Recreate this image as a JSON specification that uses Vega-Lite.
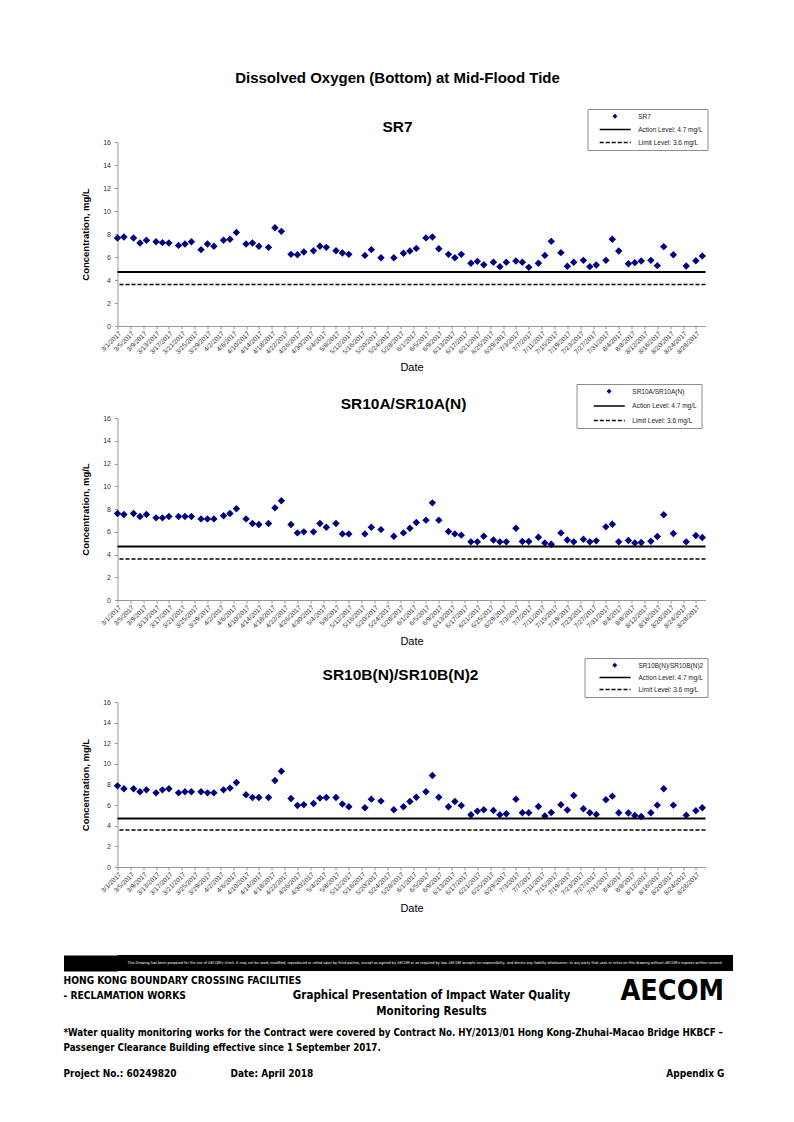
{
  "$schema": "https://vega.github.io/schema/vega-lite/v6.json",
  "background": "white",
  "padding": {"left": 55.5, "top": 70, "right": 5, "bottom": 5},
  "config": {
    "view": {"stroke": null},
    "font": "Liberation Sans",
    "title": {"color": "black"},
    "axis": {"grid": false, "domainColor": "#999999", "tickColor": "#999999", "labelColor": "#333333", "labelFont": "Liberation Sans", "titleFont": "Liberation Sans", "titleColor": "black"}
  },
  "title": {"text": "Dissolved Oxygen (Bottom) at Mid-Flood Tide", "fontSize": 15, "fontWeight": "bold", "font": "Liberation Sans", "anchor": "middle", "offset": 23, "dx": 3},
  "datasets": {
    "sr7": [
      {"date":"2017/03/01","value":7.65},{"date":"2017/03/03","value":7.74},{"date":"2017/03/06","value":7.65},{"date":"2017/03/08","value":7.22},{"date":"2017/03/10","value":7.45},{"date":"2017/03/13","value":7.33},{"date":"2017/03/15","value":7.25},{"date":"2017/03/17","value":7.22},{"date":"2017/03/20","value":7.01},{"date":"2017/03/22","value":7.13},{"date":"2017/03/24","value":7.33},{"date":"2017/03/27","value":6.64},{"date":"2017/03/29","value":7.13},{"date":"2017/03/31","value":6.93},
      {"date":"2017/04/03","value":7.45},{"date":"2017/04/05","value":7.54},{"date":"2017/04/07","value":8.14},{"date":"2017/04/10","value":7.13},{"date":"2017/04/12","value":7.22},{"date":"2017/04/14","value":6.93},{"date":"2017/04/17","value":6.84},{"date":"2017/04/19","value":8.55},{"date":"2017/04/21","value":8.23},{"date":"2017/04/24","value":6.23},{"date":"2017/04/26","value":6.2},{"date":"2017/04/28","value":6.43},
      {"date":"2017/05/01","value":6.55},{"date":"2017/05/03","value":6.93},{"date":"2017/05/05","value":6.84},{"date":"2017/05/08","value":6.55},{"date":"2017/05/10","value":6.35},{"date":"2017/05/12","value":6.23},{"date":"2017/05/17","value":6.14},{"date":"2017/05/19","value":6.64},{"date":"2017/05/22","value":5.94},{"date":"2017/05/26","value":5.94},{"date":"2017/05/29","value":6.33},{"date":"2017/05/31","value":6.52},
      {"date":"2017/06/02","value":6.75},{"date":"2017/06/05","value":7.66},{"date":"2017/06/07","value":7.74},{"date":"2017/06/09","value":6.72},{"date":"2017/06/12","value":6.23},{"date":"2017/06/14","value":5.94},{"date":"2017/06/16","value":6.23},{"date":"2017/06/19","value":5.45},{"date":"2017/06/21","value":5.62},{"date":"2017/06/23","value":5.33},{"date":"2017/06/26","value":5.54},{"date":"2017/06/28","value":5.16},{"date":"2017/06/30","value":5.54},
      {"date":"2017/07/03","value":5.65},{"date":"2017/07/05","value":5.54},{"date":"2017/07/07","value":5.1},{"date":"2017/07/10","value":5.45},{"date":"2017/07/12","value":6.14},{"date":"2017/07/14","value":7.36},{"date":"2017/07/17","value":6.38},{"date":"2017/07/19","value":5.19},{"date":"2017/07/21","value":5.54},{"date":"2017/07/24","value":5.71},{"date":"2017/07/26","value":5.16},{"date":"2017/07/28","value":5.3},{"date":"2017/07/31","value":5.71},
      {"date":"2017/08/02","value":7.54},{"date":"2017/08/04","value":6.52},{"date":"2017/08/07","value":5.42},{"date":"2017/08/09","value":5.51},{"date":"2017/08/11","value":5.65},{"date":"2017/08/14","value":5.71},{"date":"2017/08/16","value":5.25},{"date":"2017/08/18","value":6.9},{"date":"2017/08/21","value":6.2},{"date":"2017/08/25","value":5.22},{"date":"2017/08/28","value":5.68},{"date":"2017/08/30","value":6.09}
    ],
    "sr10a": [
      {"date":"2017/03/01","value":7.6},{"date":"2017/03/03","value":7.52},{"date":"2017/03/06","value":7.6},{"date":"2017/03/08","value":7.34},{"date":"2017/03/10","value":7.52},{"date":"2017/03/13","value":7.22},{"date":"2017/03/15","value":7.22},{"date":"2017/03/17","value":7.34},{"date":"2017/03/20","value":7.34},{"date":"2017/03/22","value":7.34},{"date":"2017/03/24","value":7.34},{"date":"2017/03/27","value":7.13},{"date":"2017/03/29","value":7.13},{"date":"2017/03/31","value":7.13},
      {"date":"2017/04/03","value":7.4},{"date":"2017/04/05","value":7.6},{"date":"2017/04/07","value":8.02},{"date":"2017/04/10","value":7.13},{"date":"2017/04/12","value":6.72},{"date":"2017/04/14","value":6.64},{"date":"2017/04/17","value":6.72},{"date":"2017/04/19","value":8.1},{"date":"2017/04/21","value":8.72},{"date":"2017/04/24","value":6.64},{"date":"2017/04/26","value":5.9},{"date":"2017/04/28","value":5.99},
      {"date":"2017/05/01","value":5.99},{"date":"2017/05/03","value":6.72},{"date":"2017/05/05","value":6.4},{"date":"2017/05/08","value":6.72},{"date":"2017/05/10","value":5.81},{"date":"2017/05/12","value":5.81},{"date":"2017/05/17","value":5.81},{"date":"2017/05/19","value":6.4},{"date":"2017/05/22","value":6.19},{"date":"2017/05/26","value":5.61},{"date":"2017/05/29","value":5.9},{"date":"2017/05/31","value":6.31},
      {"date":"2017/06/02","value":6.82},{"date":"2017/06/05","value":7.02},{"date":"2017/06/07","value":8.54},{"date":"2017/06/09","value":7.02},{"date":"2017/06/12","value":6.02},{"date":"2017/06/14","value":5.81},{"date":"2017/06/16","value":5.7},{"date":"2017/06/19","value":5.11},{"date":"2017/06/21","value":5.11},{"date":"2017/06/23","value":5.61},{"date":"2017/06/26","value":5.28},{"date":"2017/06/28","value":5.11},{"date":"2017/06/30","value":5.11},
      {"date":"2017/07/03","value":6.31},{"date":"2017/07/05","value":5.14},{"date":"2017/07/07","value":5.14},{"date":"2017/07/10","value":5.52},{"date":"2017/07/12","value":5.02},{"date":"2017/07/14","value":4.9},{"date":"2017/07/17","value":5.9},{"date":"2017/07/19","value":5.28},{"date":"2017/07/21","value":5.11},{"date":"2017/07/24","value":5.34},{"date":"2017/07/26","value":5.11},{"date":"2017/07/28","value":5.2},{"date":"2017/07/31","value":6.43},
      {"date":"2017/08/02","value":6.66},{"date":"2017/08/04","value":5.11},{"date":"2017/08/07","value":5.23},{"date":"2017/08/09","value":5.02},{"date":"2017/08/11","value":5.05},{"date":"2017/08/14","value":5.17},{"date":"2017/08/16","value":5.58},{"date":"2017/08/18","value":7.49},{"date":"2017/08/21","value":5.84},{"date":"2017/08/25","value":5.11},{"date":"2017/08/28","value":5.67},{"date":"2017/08/30","value":5.49}
    ],
    "sr10b": [
      {"date":"2017/03/01","value":7.87},{"date":"2017/03/03","value":7.58},{"date":"2017/03/06","value":7.58},{"date":"2017/03/08","value":7.29},{"date":"2017/03/10","value":7.48},{"date":"2017/03/13","value":7.19},{"date":"2017/03/15","value":7.48},{"date":"2017/03/17","value":7.58},{"date":"2017/03/20","value":7.19},{"date":"2017/03/22","value":7.29},{"date":"2017/03/24","value":7.29},{"date":"2017/03/27","value":7.29},{"date":"2017/03/29","value":7.19},{"date":"2017/03/31","value":7.19},
      {"date":"2017/04/03","value":7.48},{"date":"2017/04/05","value":7.65},{"date":"2017/04/07","value":8.19},{"date":"2017/04/10","value":7.0},{"date":"2017/04/12","value":6.74},{"date":"2017/04/14","value":6.74},{"date":"2017/04/17","value":6.74},{"date":"2017/04/19","value":8.39},{"date":"2017/04/21","value":9.29},{"date":"2017/04/24","value":6.65},{"date":"2017/04/26","value":5.97},{"date":"2017/04/28","value":6.03},
      {"date":"2017/05/01","value":6.16},{"date":"2017/05/03","value":6.68},{"date":"2017/05/05","value":6.74},{"date":"2017/05/08","value":6.74},{"date":"2017/05/10","value":6.1},{"date":"2017/05/12","value":5.84},{"date":"2017/05/17","value":5.74},{"date":"2017/05/19","value":6.58},{"date":"2017/05/22","value":6.39},{"date":"2017/05/26","value":5.55},{"date":"2017/05/29","value":5.84},{"date":"2017/05/31","value":6.35},
      {"date":"2017/06/02","value":6.77},{"date":"2017/06/05","value":7.29},{"date":"2017/06/07","value":8.87},{"date":"2017/06/09","value":6.77},{"date":"2017/06/12","value":5.84},{"date":"2017/06/14","value":6.35},{"date":"2017/06/16","value":5.97},{"date":"2017/06/19","value":5.06},{"date":"2017/06/21","value":5.42},{"date":"2017/06/23","value":5.55},{"date":"2017/06/26","value":5.48},{"date":"2017/06/28","value":5.06},{"date":"2017/06/30","value":5.16},
      {"date":"2017/07/03","value":6.58},{"date":"2017/07/05","value":5.26},{"date":"2017/07/07","value":5.26},{"date":"2017/07/10","value":5.87},{"date":"2017/07/12","value":4.94},{"date":"2017/07/14","value":5.29},{"date":"2017/07/17","value":6.03},{"date":"2017/07/19","value":5.52},{"date":"2017/07/21","value":6.94},{"date":"2017/07/24","value":5.65},{"date":"2017/07/26","value":5.26},{"date":"2017/07/28","value":5.1},{"date":"2017/07/31","value":6.52},
      {"date":"2017/08/02","value":6.87},{"date":"2017/08/04","value":5.26},{"date":"2017/08/07","value":5.23},{"date":"2017/08/09","value":5.0},{"date":"2017/08/11","value":4.9},{"date":"2017/08/14","value":5.26},{"date":"2017/08/16","value":6.0},{"date":"2017/08/18","value":7.58},{"date":"2017/08/21","value":6.0},{"date":"2017/08/25","value":5.03},{"date":"2017/08/28","value":5.45},{"date":"2017/08/30","value":5.74}
    ],
    "levels": [
      {"series": "Action Level: 4.7 mg/L", "value": 4.7},
      {"series": "Limit Level: 3.6 mg/L", "value": 3.6}
    ]
  },
  "spacing": 41,
  "vconcat": [
    {
      "spacing": 10,
      "resolve": {"scale": {"color": "independent", "strokeDash": "independent"}, "legend": {"color": "independent", "strokeDash": "independent"}},
      "vconcat": [
        {
          "width": 588, "height": 184,
          "title": {"text": "SR7", "fontSize": 15.5, "fontWeight": "bold", "font": "Liberation Sans", "anchor": "middle", "dx": -14, "dy": 35, "offset": 8},
          "layer": [
            {
              "data": {"name": "sr7"},
              "mark": {"type": "point", "filled": true, "shape": "diamond", "size": 55, "opacity": 1},
              "encoding": {
                "x": {"field": "date", "type": "temporal",
                  "scale": {"domain": [{"year":2017,"month":3,"date":1},{"year":2017,"month":8,"date":31}], "nice": false},
                  "axis": {"values": [{"year":2017,"month":3,"date":1},{"year":2017,"month":3,"date":5},{"year":2017,"month":3,"date":9},{"year":2017,"month":3,"date":13},{"year":2017,"month":3,"date":17},{"year":2017,"month":3,"date":21},{"year":2017,"month":3,"date":25},{"year":2017,"month":3,"date":29},{"year":2017,"month":4,"date":2},{"year":2017,"month":4,"date":6},{"year":2017,"month":4,"date":10},{"year":2017,"month":4,"date":14},{"year":2017,"month":4,"date":18},{"year":2017,"month":4,"date":22},{"year":2017,"month":4,"date":26},{"year":2017,"month":4,"date":30},{"year":2017,"month":5,"date":4},{"year":2017,"month":5,"date":8},{"year":2017,"month":5,"date":12},{"year":2017,"month":5,"date":16},{"year":2017,"month":5,"date":20},{"year":2017,"month":5,"date":24},{"year":2017,"month":5,"date":28},{"year":2017,"month":6,"date":1},{"year":2017,"month":6,"date":5},{"year":2017,"month":6,"date":9},{"year":2017,"month":6,"date":13},{"year":2017,"month":6,"date":17},{"year":2017,"month":6,"date":21},{"year":2017,"month":6,"date":25},{"year":2017,"month":6,"date":29},{"year":2017,"month":7,"date":3},{"year":2017,"month":7,"date":7},{"year":2017,"month":7,"date":11},{"year":2017,"month":7,"date":15},{"year":2017,"month":7,"date":19},{"year":2017,"month":7,"date":23},{"year":2017,"month":7,"date":27},{"year":2017,"month":7,"date":31},{"year":2017,"month":8,"date":4},{"year":2017,"month":8,"date":8},{"year":2017,"month":8,"date":12},{"year":2017,"month":8,"date":16},{"year":2017,"month":8,"date":20},{"year":2017,"month":8,"date":24},{"year":2017,"month":8,"date":28}],
                    "format": "%-m/%-d/%Y", "labelAngle": -45, "labelFontSize": 6.5, "labelOverlap": false, "labelFlush": false, "labelBound": false, "labelPadding": 1, "tickSize": 3, "title": "Date", "titleFontSize": 11, "titleFontWeight": "normal", "titlePadding": 6}},
                "y": {"field": "value", "type": "quantitative", "scale": {"domain": [0, 16], "nice": false},
                  "axis": {"values": [0,2,4,6,8,10,12,14,16], "labelOverlap": false, "labelFontSize": 7, "tickSize": 3, "labelPadding": 4, "title": "Concentration, mg/L", "titleFontSize": 9.5, "titleFontWeight": "bold", "titlePadding": 12}},
                "color": {"datum": "SR7", "type": "nominal",
                  "scale": {"domain": ["SR7"], "range": ["#000080"]},
                  "legend": {"orient": "none", "legendX": 470, "legendY": -33, "direction": "vertical", "title": null, "strokeColor": null, "padding": 4, "rowPadding": 6, "labelFont": "Liberation Sans", "labelFontSize": 6.5, "labelColor": "#222222", "labelOpacity": 0, "symbolType": "diamond", "symbolSize": 25, "symbolOffset": 20.2, "labelOffset": 19.5, "symbolStrokeWidth": 0}}
              }
            },
            {
              "data": {"name": "levels"},
              "mark": {"type": "rule", "color": "black"},
              "encoding": {
                "y": {"field": "value", "type": "quantitative", "scale": {"domain": [0, 16], "nice": false},
                  "axis": {"values": [0,2,4,6,8,10,12,14,16], "labelOverlap": false, "labelFontSize": 7, "tickSize": 3, "labelPadding": 4, "title": "Concentration, mg/L", "titleFontSize": 9.5, "titleFontWeight": "bold", "titlePadding": 12}},
                "strokeWidth": {"field": "series", "type": "ordinal", "scale": {"domain": ["Action Level: 4.7 mg/L", "Limit Level: 3.6 mg/L"], "range": [2, 1.5]}, "legend": null},
                "strokeDash": {"field": "series", "type": "nominal",
                  "scale": {"domain": ["SR7", "Action Level: 4.7 mg/L", "Limit Level: 3.6 mg/L"], "range": [[0, 1000], [1, 0], [4, 2]]},
                  "legend": {"orient": "none", "legendX": 470, "legendY": -33, "direction": "vertical", "title": null, "strokeColor": "#8c8c8c", "padding": 4, "rowPadding": 6, "labelFont": "Liberation Sans", "labelFontSize": 6.5, "labelColor": "#222222", "symbolType": "M-6.2,0L6.2,0", "symbolSize": 25, "symbolStrokeColor": "black", "symbolStrokeWidth": 1.5, "symbolOffset": 20.2, "labelOffset": 19.5}}
              }
            }
          ]
        },
        {
          "width": 588, "height": 182,
          "title": {"text": "SR10A/SR10A(N)", "fontSize": 15.5, "fontWeight": "bold", "font": "Liberation Sans", "anchor": "middle", "dx": -8, "dy": 37, "offset": 8},
          "layer": [
            {
              "data": {"name": "sr10a"},
              "mark": {"type": "point", "filled": true, "shape": "diamond", "size": 55, "opacity": 1},
              "encoding": {
                "x": {"field": "date", "type": "temporal",
                  "scale": {"domain": [{"year":2017,"month":3,"date":1},{"year":2017,"month":8,"date":31}], "nice": false},
                  "axis": {"values": [{"year":2017,"month":3,"date":1},{"year":2017,"month":3,"date":5},{"year":2017,"month":3,"date":9},{"year":2017,"month":3,"date":13},{"year":2017,"month":3,"date":17},{"year":2017,"month":3,"date":21},{"year":2017,"month":3,"date":25},{"year":2017,"month":3,"date":29},{"year":2017,"month":4,"date":2},{"year":2017,"month":4,"date":6},{"year":2017,"month":4,"date":10},{"year":2017,"month":4,"date":14},{"year":2017,"month":4,"date":18},{"year":2017,"month":4,"date":22},{"year":2017,"month":4,"date":26},{"year":2017,"month":4,"date":30},{"year":2017,"month":5,"date":4},{"year":2017,"month":5,"date":8},{"year":2017,"month":5,"date":12},{"year":2017,"month":5,"date":16},{"year":2017,"month":5,"date":20},{"year":2017,"month":5,"date":24},{"year":2017,"month":5,"date":28},{"year":2017,"month":6,"date":1},{"year":2017,"month":6,"date":5},{"year":2017,"month":6,"date":9},{"year":2017,"month":6,"date":13},{"year":2017,"month":6,"date":17},{"year":2017,"month":6,"date":21},{"year":2017,"month":6,"date":25},{"year":2017,"month":6,"date":29},{"year":2017,"month":7,"date":3},{"year":2017,"month":7,"date":7},{"year":2017,"month":7,"date":11},{"year":2017,"month":7,"date":15},{"year":2017,"month":7,"date":19},{"year":2017,"month":7,"date":23},{"year":2017,"month":7,"date":27},{"year":2017,"month":7,"date":31},{"year":2017,"month":8,"date":4},{"year":2017,"month":8,"date":8},{"year":2017,"month":8,"date":12},{"year":2017,"month":8,"date":16},{"year":2017,"month":8,"date":20},{"year":2017,"month":8,"date":24},{"year":2017,"month":8,"date":28}],
                    "format": "%-m/%-d/%Y", "labelAngle": -45, "labelFontSize": 6.5, "labelOverlap": false, "labelFlush": false, "labelBound": false, "labelPadding": 1, "tickSize": 3, "title": "Date", "titleFontSize": 11, "titleFontWeight": "normal", "titlePadding": 6}},
                "y": {"field": "value", "type": "quantitative", "scale": {"domain": [0, 16], "nice": false},
                  "axis": {"values": [0,2,4,6,8,10,12,14,16], "labelOverlap": false, "labelFontSize": 7, "tickSize": 3, "labelPadding": 4, "title": "Concentration, mg/L", "titleFontSize": 9.5, "titleFontWeight": "bold", "titlePadding": 12}},
                "color": {"datum": "SR10A/SR10A(N)", "type": "nominal",
                  "scale": {"domain": ["SR10A/SR10A(N)"], "range": ["#000080"]},
                  "legend": {"orient": "none", "legendX": 459, "legendY": -34, "direction": "vertical", "title": null, "strokeColor": null, "padding": 4, "rowPadding": 7.5, "labelFont": "Liberation Sans", "labelFontSize": 6.5, "labelColor": "#222222", "labelOpacity": 0, "symbolType": "diamond", "symbolSize": 25, "symbolOffset": 25.3, "labelOffset": 19.5, "symbolStrokeWidth": 0}}
              }
            },
            {
              "data": {"name": "levels"},
              "mark": {"type": "rule", "color": "black"},
              "encoding": {
                "y": {"field": "value", "type": "quantitative", "scale": {"domain": [0, 16], "nice": false},
                  "axis": {"values": [0,2,4,6,8,10,12,14,16], "labelOverlap": false, "labelFontSize": 7, "tickSize": 3, "labelPadding": 4, "title": "Concentration, mg/L", "titleFontSize": 9.5, "titleFontWeight": "bold", "titlePadding": 12}},
                "strokeWidth": {"field": "series", "type": "ordinal", "scale": {"domain": ["Action Level: 4.7 mg/L", "Limit Level: 3.6 mg/L"], "range": [2, 1.5]}, "legend": null},
                "strokeDash": {"field": "series", "type": "nominal",
                  "scale": {"domain": ["SR10A/SR10A(N)", "Action Level: 4.7 mg/L", "Limit Level: 3.6 mg/L"], "range": [[0, 1000], [1, 0], [4, 2]]},
                  "legend": {"orient": "none", "legendX": 459, "legendY": -34, "direction": "vertical", "title": null, "strokeColor": "#8c8c8c", "padding": 4, "rowPadding": 7.5, "labelFont": "Liberation Sans", "labelFontSize": 6.5, "labelColor": "#222222", "symbolType": "M-6.2,0L6.2,0", "symbolSize": 25, "symbolStrokeColor": "black", "symbolStrokeWidth": 1.5, "symbolOffset": 25.3, "labelOffset": 19.5}}
              }
            }
          ]
        },
        {
          "width": 588, "height": 165,
          "title": {"text": "SR10B(N)/SR10B(N)2", "fontSize": 15.5, "fontWeight": "bold", "font": "Liberation Sans", "anchor": "middle", "dx": -11, "dy": 34, "offset": 8},
          "layer": [
            {
              "data": {"name": "sr10b"},
              "mark": {"type": "point", "filled": true, "shape": "diamond", "size": 55, "opacity": 1},
              "encoding": {
                "x": {"field": "date", "type": "temporal",
                  "scale": {"domain": [{"year":2017,"month":3,"date":1},{"year":2017,"month":8,"date":31}], "nice": false},
                  "axis": {"values": [{"year":2017,"month":3,"date":1},{"year":2017,"month":3,"date":5},{"year":2017,"month":3,"date":9},{"year":2017,"month":3,"date":13},{"year":2017,"month":3,"date":17},{"year":2017,"month":3,"date":21},{"year":2017,"month":3,"date":25},{"year":2017,"month":3,"date":29},{"year":2017,"month":4,"date":2},{"year":2017,"month":4,"date":6},{"year":2017,"month":4,"date":10},{"year":2017,"month":4,"date":14},{"year":2017,"month":4,"date":18},{"year":2017,"month":4,"date":22},{"year":2017,"month":4,"date":26},{"year":2017,"month":4,"date":30},{"year":2017,"month":5,"date":4},{"year":2017,"month":5,"date":8},{"year":2017,"month":5,"date":12},{"year":2017,"month":5,"date":16},{"year":2017,"month":5,"date":20},{"year":2017,"month":5,"date":24},{"year":2017,"month":5,"date":28},{"year":2017,"month":6,"date":1},{"year":2017,"month":6,"date":5},{"year":2017,"month":6,"date":9},{"year":2017,"month":6,"date":13},{"year":2017,"month":6,"date":17},{"year":2017,"month":6,"date":21},{"year":2017,"month":6,"date":25},{"year":2017,"month":6,"date":29},{"year":2017,"month":7,"date":3},{"year":2017,"month":7,"date":7},{"year":2017,"month":7,"date":11},{"year":2017,"month":7,"date":15},{"year":2017,"month":7,"date":19},{"year":2017,"month":7,"date":23},{"year":2017,"month":7,"date":27},{"year":2017,"month":7,"date":31},{"year":2017,"month":8,"date":4},{"year":2017,"month":8,"date":8},{"year":2017,"month":8,"date":12},{"year":2017,"month":8,"date":16},{"year":2017,"month":8,"date":20},{"year":2017,"month":8,"date":24},{"year":2017,"month":8,"date":28}],
                    "format": "%-m/%-d/%Y", "labelAngle": -45, "labelFontSize": 6.5, "labelOverlap": false, "labelFlush": false, "labelBound": false, "labelPadding": 1, "tickSize": 3, "title": "Date", "titleFontSize": 11, "titleFontWeight": "normal", "titlePadding": 6}},
                "y": {"field": "value", "type": "quantitative", "scale": {"domain": [0, 16], "nice": false},
                  "axis": {"values": [0,2,4,6,8,10,12,14,16], "labelOverlap": false, "labelFontSize": 7, "tickSize": 3, "labelPadding": 4, "title": "Concentration, mg/L", "titleFontSize": 9.5, "titleFontWeight": "bold", "titlePadding": 12}},
                "color": {"datum": "SR10B(N)/SR10B(N)2", "type": "nominal",
                  "scale": {"domain": ["SR10B(N)/SR10B(N)2"], "range": ["#000080"]},
                  "legend": {"orient": "none", "legendX": 467, "legendY": -44, "direction": "vertical", "title": null, "strokeColor": null, "padding": 4, "rowPadding": 5, "labelFont": "Liberation Sans", "labelFontSize": 6.5, "labelColor": "#222222", "labelOpacity": 0, "symbolType": "diamond", "symbolSize": 25, "symbolOffset": 23, "labelOffset": 20, "symbolStrokeWidth": 0}}
              }
            },
            {
              "data": {"name": "levels"},
              "mark": {"type": "rule", "color": "black"},
              "encoding": {
                "y": {"field": "value", "type": "quantitative", "scale": {"domain": [0, 16], "nice": false},
                  "axis": {"values": [0,2,4,6,8,10,12,14,16], "labelOverlap": false, "labelFontSize": 7, "tickSize": 3, "labelPadding": 4, "title": "Concentration, mg/L", "titleFontSize": 9.5, "titleFontWeight": "bold", "titlePadding": 12}},
                "strokeWidth": {"field": "series", "type": "ordinal", "scale": {"domain": ["Action Level: 4.7 mg/L", "Limit Level: 3.6 mg/L"], "range": [2, 1.5]}, "legend": null},
                "strokeDash": {"field": "series", "type": "nominal",
                  "scale": {"domain": ["SR10B(N)/SR10B(N)2", "Action Level: 4.7 mg/L", "Limit Level: 3.6 mg/L"], "range": [[0, 1000], [1, 0], [4, 2]]},
                  "legend": {"orient": "none", "legendX": 467, "legendY": -44, "direction": "vertical", "title": null, "strokeColor": "#8c8c8c", "padding": 4, "rowPadding": 5, "labelFont": "Liberation Sans", "labelFontSize": 6.5, "labelColor": "#222222", "symbolType": "M-6.2,0L6.2,0", "symbolSize": 25, "symbolStrokeColor": "black", "symbolStrokeWidth": 1.5, "symbolOffset": 23, "labelOffset": 20}}
              }
            }
          ]
        }
      ]
    },
    {
      "spacing": 4,
      "vconcat": [
        {
          "width": 615.5, "height": 16,
          "view": {"fill": "black", "stroke": null},
          "data": {"values": [{"t": "This Drawing has been prepared for the use of AECOM's client. It may not be used, modified, reproduced or relied upon by third parties, except as agreed by AECOM or as required by law. AECOM accepts no responsibility, and denies any liability whatsoever, to any party that uses or relies on this drawing without AECOM's express written consent."}]},
          "mark": {"type": "text", "color": "white", "fontSize": 3.8, "font": "DejaVu Sans Condensed, sans-serif"},
          "encoding": {
            "text": {"field": "t"},
            "y": {"field": "t", "type": "nominal", "axis": {"labels": false, "domain": false, "title": null, "ticks": true, "tickSize": 54, "tickWidth": 16, "tickColor": "black", "tickCap": "butt", "tickOpacity": 1}}
          }
        },
        {
          "bounds": "flush",
          "spacing": 0,
          "hconcat": [
            {
              "width": 174, "height": 23,
              "data": {"values": [{}]}, "mark": {"type": "text"},
              "title": {"text": ["HONG KONG BOUNDARY CROSSING FACILITIES", "- RECLAMATION WORKS"], "anchor": "start", "frame": "group", "font": "DejaVu Sans Condensed, sans-serif", "fontSize": 10.2, "fontWeight": "bold", "lineHeight": 15, "offset": 0, "dx": -54}
            },
            {
              "width": 280, "height": 23,
              "data": {"values": [{}]}, "mark": {"type": "text"},
              "title": {"text": ["Graphical Presentation of Impact Water Quality", "Monitoring Results"], "anchor": "middle", "frame": "group", "font": "DejaVu Sans Condensed, sans-serif", "fontSize": 11.5, "fontWeight": "bold", "lineHeight": 16, "offset": -16}
            },
            {
              "width": 161.5, "height": 23,
              "data": {"values": [{}]}, "mark": {"type": "text"},
              "title": {"text": "AECOM", "anchor": "end", "frame": "group", "font": "DejaVu Sans Condensed, sans-serif", "fontSize": 28.5, "fontWeight": "bold", "offset": -4, "dx": -9}
            }
          ]
        },
        {
          "width": 615.5, "height": 4,
          "data": {"values": [{}]}, "mark": {"type": "text"},
          "title": {"text": ["*Water quality monitoring works for the Contract were covered by Contract No. HY/2013/01 Hong Kong-Zhuhai-Macao Bridge HKBCF –", "Passenger Clearance Building effective since 1 September 2017."], "anchor": "start", "frame": "group", "font": "DejaVu Sans Condensed, sans-serif", "fontSize": 9.7, "fontWeight": "bold", "lineHeight": 15, "offset": 0, "dx": -54}
        },
        {
          "bounds": "flush",
          "spacing": 0,
          "hconcat": [
            {
              "width": 112.5, "height": 1,
              "data": {"values": [{}]}, "mark": {"type": "text"},
              "title": {"text": "Project No.: 60249820", "anchor": "start", "frame": "group", "font": "DejaVu Sans Condensed, sans-serif", "fontSize": 10, "fontWeight": "bold", "offset": 0, "dx": -54}
            },
            {
              "width": 280, "height": 1,
              "data": {"values": [{}]}, "mark": {"type": "text"},
              "title": {"text": "Date: April 2018", "anchor": "start", "frame": "group", "font": "DejaVu Sans Condensed, sans-serif", "fontSize": 10, "fontWeight": "bold", "offset": 0}
            },
            {
              "width": 223, "height": 1,
              "data": {"values": [{}]}, "mark": {"type": "text"},
              "title": {"text": "Appendix G", "anchor": "end", "frame": "group", "font": "DejaVu Sans Condensed, sans-serif", "fontSize": 10, "fontWeight": "bold", "offset": 0, "dx": -9}
            }
          ]
        }
      ]
    }
  ]
}
